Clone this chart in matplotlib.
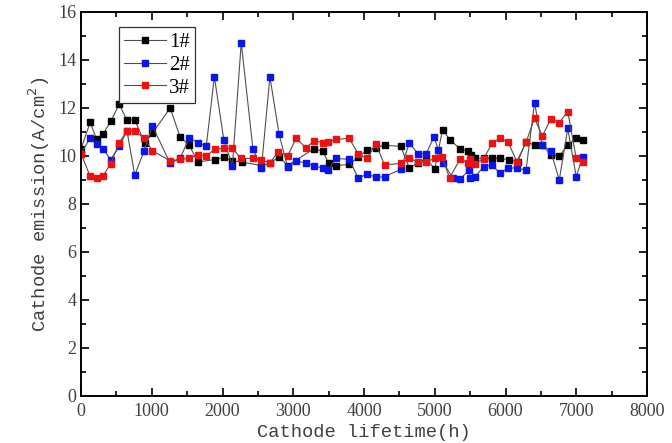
import matplotlib
matplotlib.use('Agg')
import matplotlib.pyplot as plt
from matplotlib.ticker import MultipleLocator

# cathode lifetime (h) and emission (A/cm^2) for the three cathodes
t1 = [0, 130, 220, 310, 420, 540, 650, 760, 900, 1010, 1260, 1400, 1530, 1650, 1890,
      2020, 2140, 2270, 2550, 2670, 2800, 2920, 3290, 3420, 3500, 3610, 3790, 3920, 4040,
      4170, 4290, 4520, 4640, 4760, 4880, 5000, 5110, 5220, 5360, 5470, 5510, 5570, 5690,
      5810, 5920, 6050, 6170, 6290, 6410, 6520, 6640, 6760, 6880, 7000, 7090]
e1 = [10.3, 11.4, 10.7, 10.9, 11.45, 12.15, 11.5, 11.5, 10.55, 10.95, 12.0, 10.8, 10.45,
      9.75, 9.85, 9.95, 9.8, 9.75, 9.6, 9.7, 9.97, 9.6, 10.3, 10.2, 9.7, 9.6, 9.65, 9.95,
      10.25, 10.35, 10.45, 10.4, 9.5, 9.7, 9.9, 9.45, 11.1, 10.65, 10.3, 10.2, 10.05, 9.9,
      9.9, 9.9, 9.9, 9.85, 9.75, 10.6, 10.45, 10.45, 10.05, 10.0, 10.45, 10.75, 10.65]

t2 = [0, 130, 230, 310, 420, 540, 650, 760, 890, 1010, 1260, 1400, 1530, 1650, 1770,
      1885, 2020, 2140, 2265, 2430, 2550, 2670, 2800, 2920, 3040, 3180, 3300, 3420, 3490,
      3610, 3790, 3920, 4040, 4170, 4290, 4520, 4640, 4760, 4880, 4990, 5050, 5120, 5260,
      5360, 5480, 5500, 5570, 5690, 5810, 5920, 6040, 6160, 6290, 6410, 6520, 6640, 6760,
      6880, 7000, 7090]
e2 = [10.1, 10.75, 10.5, 10.3, 9.85, 10.4, 11.05, 9.2, 10.2, 11.25, 9.7, 9.9, 10.75,
      10.55, 10.4, 13.3, 10.65, 9.6, 14.72, 10.3, 9.5, 13.3, 10.9, 9.55, 9.8, 9.7, 9.58,
      9.5, 9.42, 9.9, 9.86, 9.07, 9.25, 9.11, 9.14, 9.44, 10.55, 10.1, 10.1, 10.8, 10.25,
      9.72, 9.07, 9.04, 9.4, 9.07, 9.14, 9.55, 9.63, 9.28, 9.5, 9.5, 9.4, 12.22, 10.46,
      10.2, 9.0, 11.15, 9.14, 9.97]

t3 = [0, 130, 230, 310, 420, 540, 650, 760, 890, 1010, 1260, 1400, 1530, 1650, 1770,
      1890, 2020, 2140, 2260, 2430, 2550, 2670, 2790, 2920, 3040, 3180, 3300, 3420, 3490,
      3610, 3790, 3920, 4040, 4170, 4290, 4520, 4640, 4760, 4880, 5000, 5100, 5210, 5360,
      5470, 5500, 5570, 5690, 5810, 5920, 6040, 6160, 6290, 6410, 6520, 6640, 6760, 6880,
      7000, 7090]
e3 = [10.1, 9.15, 9.07, 9.17, 9.67, 10.55, 11.05, 11.05, 10.74, 10.22, 9.8, 9.86, 9.9,
      10.04, 10.0, 10.28, 10.32, 10.32, 9.9, 9.9, 9.83, 9.72, 10.18, 10.0, 10.74, 10.34,
      10.64, 10.56, 10.6, 10.69, 10.74, 10.08, 9.9, 10.5, 9.63, 9.69, 9.9, 9.76, 9.76, 9.9,
      9.97, 9.09, 9.88, 9.72, 9.88, 9.67, 9.88, 10.53, 10.74, 10.57, 9.76, 10.57, 11.57,
      10.83, 11.54, 11.39, 11.85, 9.9, 9.76]

labels = ['1#', '2#', '3#']
colors = ['#000000', '#0a14f0', '#f01010']

serif = 'Liberation Serif'
mono = 'Liberation Mono'

fig = plt.figure(figsize=(6.72, 4.43), dpi=100)
ax = fig.add_axes([81 / 672, 47 / 443, 566 / 672, 384 / 443])

for t, e, lab, c in zip([t1, t2, t3], [e1, e2, e3], labels, colors):
    ax.plot(t, e, '-', color='#505050', lw=0.8, marker='s', ms=4.2,
            mfc=c, mec=c, label=lab)

ax.set_xlim(0, 8000)
ax.set_ylim(0, 16)
ax.xaxis.set_major_locator(MultipleLocator(1000))
ax.xaxis.set_minor_locator(MultipleLocator(500))
ax.yaxis.set_major_locator(MultipleLocator(2))
ax.yaxis.set_minor_locator(MultipleLocator(1))
ax.tick_params(which='both', direction='in', top=True, right=True,
               labeltop=False, labelright=False, width=1.2, colors='black')
ax.tick_params(which='major', length=6)
ax.tick_params(which='minor', length=3.5)
for lbl in ax.get_xticklabels() + ax.get_yticklabels():
    lbl.set_family(serif)
    lbl.set_fontsize(13)
    lbl.set_color('#404040')
ax.tick_params(axis='x', pad=5)
for sp in ax.spines.values():
    sp.set_linewidth(1.4)

ax.set_xlabel('Cathode lifetime(h)', family=mono, fontsize=13.5, color='#404040',
              labelpad=3)
ax.set_ylabel('Cathode emission(A/cm$^2$)', family=mono, fontsize=13.5, color='#404040',
              labelpad=4)

leg = ax.legend(loc='upper left', bbox_to_anchor=(0.067, 0.96), numpoints=1,
                prop={'family': serif, 'size': 15}, handlelength=2.0,
                handletextpad=0.15, labelspacing=0.15, borderpad=0.25,
                borderaxespad=0, fancybox=False, framealpha=1,
                edgecolor='#333333')
leg.get_frame().set_linewidth(0.9)

fig.savefig('out.png', dpi=100)
